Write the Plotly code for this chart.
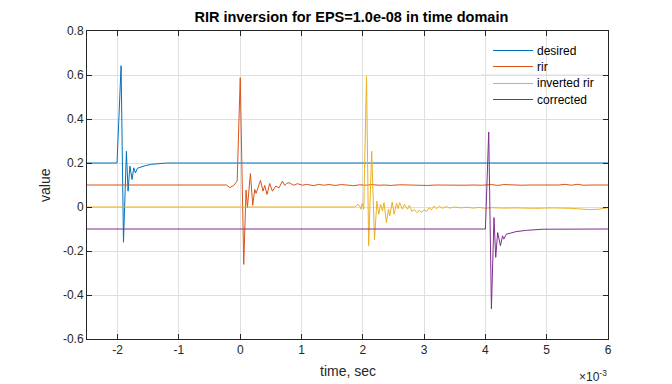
import plotly.graph_objects as go

# ---------------- data (time in units of 1e-3 s) ----------------
desired_t = [-2.5, -2.01, -1.944, -1.905, -1.857, -1.83, -1.80, -1.765, -1.737, -1.71,
             -1.677, -1.62, -1.55, -1.45, -1.35, -1.2, -1.0, 6.0]
desired_v = [0.2, 0.2, 0.642, -0.16, 0.253, 0.072, 0.186, 0.125, 0.178, 0.155,
             0.176, 0.182, 0.188, 0.194, 0.197, 0.2, 0.2, 0.2]

rir_t = [-2.5, -0.225, -0.17, -0.106, -0.073, -0.05, 0.0, 0.057, 0.095, 0.117,
         0.166, 0.204, 0.237, 0.258, 0.33, 0.372, 0.40, 0.437, 0.48, 0.525,
         0.58, 0.633, 0.688, 0.726, 0.76, 0.807, 0.85, 0.889, 0.93, 0.97,
         1.02, 1.08, 1.13, 1.2, 1.28, 1.36, 1.45, 1.55, 1.65, 1.75,
         1.85, 1.95, 2.05, 2.15, 2.25, 2.35, 2.45, 2.6, 2.75, 2.9,
         3.05, 3.2, 3.35, 3.5, 3.65, 3.8, 3.95, 4.1, 4.2, 4.3,
         4.45, 4.6, 4.75, 4.9, 5.05, 5.2, 5.3, 5.4, 5.5, 5.6,
         5.75, 5.9, 6.0]
rir_v = [0.1, 0.1, 0.088, 0.098, 0.11, 0.118, 0.588, -0.261, 0.077, -0.003,
         0.152, 0.008, 0.08, 0.062, 0.121, 0.072, 0.098, 0.057, 0.107, 0.072,
         0.095, 0.087, 0.118, 0.098, 0.108, 0.11, 0.101, 0.1, 0.106, 0.103,
         0.099, 0.103, 0.1, 0.097, 0.103, 0.099, 0.102, 0.098, 0.102, 0.1,
         0.097, 0.101, 0.099, 0.102, 0.099, 0.1, 0.098, 0.101, 0.099, 0.1,
         0.098, 0.1, 0.099, 0.101, 0.099, 0.1, 0.099, 0.102, 0.098, 0.102,
         0.1, 0.099, 0.1, 0.1, 0.099, 0.1, 0.103, 0.099, 0.103, 0.099,
         0.1, 0.101, 0.1]

inv_t = [-2.5, 1.87, 1.92, 1.95, 1.97, 1.99, 2.015, 2.06, 2.095, 2.145,
         2.19, 2.23, 2.26, 2.29, 2.32, 2.346, 2.385, 2.42, 2.44, 2.48,
         2.51, 2.55, 2.575, 2.60, 2.646, 2.68, 2.73, 2.76, 2.80, 2.84,
         2.88, 2.92, 2.96, 3.0, 3.04, 3.08, 3.12, 3.16, 3.2, 3.25,
         3.3, 3.36, 3.42, 3.5, 3.6, 3.7, 3.8, 3.9, 4.0, 4.1,
         4.3, 4.5, 4.8, 5.1, 5.4, 5.55, 5.7, 5.85, 5.95, 6.0]
inv_v = [0.0, 0.0, 0.012, 0.004, -0.01, 0.017, -0.01, 0.595, -0.176, 0.253,
         -0.15, 0.027, -0.033, 0.012, -0.018, 0.02, -0.071, -0.01, -0.04, 0.023,
         -0.033, 0.017, -0.008, 0.02, -0.01, 0.012, -0.01, 0.008, -0.02, -0.012,
         -0.026, -0.015, -0.024, -0.012, -0.02, -0.004, -0.012, 0.004, -0.008, 0.003,
         -0.006, 0.002, -0.005, 0.0, -0.004, -0.001, -0.005, -0.002, -0.006, -0.003,
         -0.005, -0.004, -0.006, -0.004, -0.006, -0.01, -0.012, -0.01, -0.004, -0.003]

corr_t = [-2.5, 4.0, 4.054, 4.098, 4.14, 4.168, 4.20, 4.245, 4.28, 4.30,
          4.34, 4.42, 4.5, 4.67, 4.94, 6.0]
corr_v = [-0.1, -0.1, 0.341, -0.463, -0.048, -0.229, -0.116, -0.176, -0.131, -0.146,
          -0.124, -0.117, -0.112, -0.106, -0.101, -0.1]

series_names = ["desired", "rir", "inverted rir", "corrected"]
series_colors = ["#0072BD", "#D95319", "#EDB120", "#7E2F8E"]

x_tickvals = [-2, -1, 0, 1, 2, 3, 4, 5, 6]
x_ticktext = ["-2", "-1", "0", "1", "2", "3", "4", "5", "6"]
y_tickvals = [-0.6, -0.4, -0.2, 0, 0.2, 0.4, 0.6, 0.8]
y_ticktext = ["-0.6", "-0.4", "-0.2", "0", "0.2", "0.4", "0.6", "0.8"]

FONT = "Liberation Sans, Arial, Helvetica, sans-serif"
AX = "#262626"
GRID = "#dfdfdf"

# page body has an 8px margin: figure is 664x376 placed at (8, 8)
OFF = 8
W, H = 672 - OFF, 384 - OFF
L, T = 87 - OFF, 31 - OFF
PW, PH = 521, 308
R, B = W - L - PW, H - T - PH


def px_x(px):  # absolute page x -> paper x
    return (px - 87) / PW


def px_y(py):  # absolute page y -> paper y
    return (339 - py) / PH


fig = go.Figure()
for name, color, tt, vv in zip(series_names, series_colors,
                               [desired_t, rir_t, inv_t, corr_t],
                               [desired_v, rir_v, inv_v, corr_v]):
    fig.add_trace(go.Scatter(x=tt, y=vv, mode="lines", name=name, showlegend=False,
                             line=dict(color=color, width=1)))

axis_common = dict(showline=True, linecolor=AX, linewidth=1, mirror="ticks",
                   ticks="inside", ticklen=5, tickcolor=AX, tickwidth=1,
                   showgrid=True, gridcolor=GRID, gridwidth=1, zeroline=False,
                   tickfont=dict(family=FONT, size=12, color=AX))

# legend box (white, covers gridlines) drawn between grid and traces
shapes = [
    dict(type="rect", xref="paper", yref="paper", x0=px_x(481), x1=px_x(603),
         y0=px_y(110), y1=px_y(35),
         fillcolor="white", line=dict(width=0), layer="between"),
    dict(type="line", xref="paper", yref="y", x0=px_x(481), x1=px_x(603), y0=0.6, y1=0.6,
         line=dict(color=GRID, width=1), layer="between"),
]
annotations = [
    dict(text="value", xref="paper", yref="paper", x=px_x(45), y=0.5,
         xanchor="center", yanchor="middle", textangle=-90, showarrow=False,
         font=dict(family=FONT, size=14, color=AX)),
    dict(text="time, sec", xref="paper", yref="paper", x=0.5, y=px_y(371),
         xanchor="center", yanchor="middle", showarrow=False,
         font=dict(family=FONT, size=14, color=AX)),
    dict(text="×10<sup>-3</sup>", xref="paper", yref="paper", x=px_x(609), y=px_y(376),
         xanchor="right", yanchor="middle", showarrow=False,
         font=dict(family=FONT, size=12, color=AX)),
]
legend_rows = [50.5, 66.5, 83.5, 99.5]
for ypx, name, color in zip(legend_rows, series_names, series_colors):
    shapes.append(dict(type="line", xref="paper", yref="paper",
                       x0=px_x(493), x1=px_x(533), y0=px_y(ypx), y1=px_y(ypx),
                       line=dict(color=color, width=1), layer="above"))
    annotations.append(dict(text=name, xref="paper", yref="paper", x=px_x(535), y=px_y(ypx),
                            xanchor="left", yanchor="middle", showarrow=False,
                            font=dict(family=FONT, size=12, color="#000000")))

fig.update_layout(
    width=W, height=H,
    margin=dict(l=L, r=R, t=T, b=B),
    paper_bgcolor="white", plot_bgcolor="white",
    font=dict(family=FONT, color=AX),
    title=dict(text="<b>RIR inversion for EPS=1.0e-08 in time domain</b>",
               x=(87 + 608) / 2 / 672, xref="container", xanchor="center",
               y=1 - (17 - OFF) / H, yanchor="middle",
               font=dict(family=FONT, size=14.5, color="#000000")),
    xaxis=dict(range=[-2.5, 6], tickvals=x_tickvals, ticktext=x_ticktext, **axis_common),
    yaxis=dict(range=[-0.6, 0.8], tickvals=y_tickvals, ticktext=y_ticktext, **axis_common),
    showlegend=False,
    shapes=shapes,
    annotations=annotations,
)

fig.write_html("out.html")
